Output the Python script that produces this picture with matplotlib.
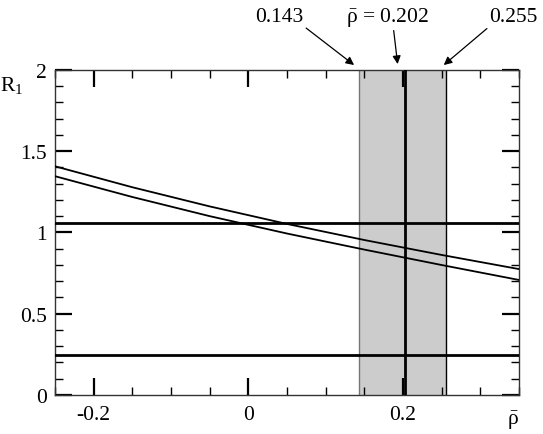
import matplotlib
matplotlib.use('Agg')
import matplotlib.pyplot as plt
from matplotlib.ticker import MultipleLocator, FormatStrFormatter

plt.rcParams['font.family'] = ['Liberation Serif', 'DejaVu Serif']
plt.rcParams['mathtext.fontset'] = 'custom'
plt.rcParams['mathtext.rm'] = 'Liberation Serif'
plt.rcParams['mathtext.it'] = 'Liberation Serif:italic'
plt.rcParams['axes.unicode_minus'] = False

# data
rho = [-0.25, -0.15, -0.05, 0.05, 0.15, 0.25, 0.35]
r1_upper = [1.407, 1.278, 1.160, 1.052, 0.953, 0.861, 0.774]
r1_lower = [1.346, 1.218, 1.100, 0.993, 0.894, 0.799, 0.707]
h_levels = [1.058, 0.247]
band = [0.143, 0.255]
rho_best = 0.202

fig = plt.figure(figsize=(5.43, 4.35), dpi=100)
ax = fig.add_axes([0.101, 0.090, 0.855, 0.747])

ax.axvspan(band[0], band[1], facecolor='#cccccc', edgecolor='none', zorder=1)
ax.axvline(band[0], color='#777777', lw=1.0, zorder=2)
ax.axvline(band[1], color='black', lw=1.0, zorder=2)
ax.axvline(rho_best, color='black', lw=2.0, zorder=3)
for h in h_levels:
    ax.axhline(h, color='black', lw=2.0, zorder=3)

ax.plot(rho, r1_upper, color='black', lw=1.3, zorder=4)
ax.plot(rho, r1_lower, color='black', lw=1.3, zorder=4)

ax.set_xlim(-0.25, 0.35)
ax.set_ylim(0, 2)
ax.xaxis.set_major_locator(MultipleLocator(0.2))
ax.xaxis.set_minor_locator(MultipleLocator(0.05))
ax.yaxis.set_major_locator(MultipleLocator(0.5))
ax.yaxis.set_minor_locator(MultipleLocator(0.1))
ax.xaxis.set_major_formatter(FormatStrFormatter('%g'))
ax.yaxis.set_major_formatter(FormatStrFormatter('%g'))
ax.tick_params(which='both', direction='in', top=True, right=True,
               labelsize=15.5, color='black')
ax.tick_params(which='major', length=12, width=1.6)
ax.tick_params(which='minor', length=6, width=1.0)
ax.tick_params(axis='y', pad=6)
ax.tick_params(axis='x', pad=7)
for s in ax.spines.values():
    s.set_linewidth(1.0)
    s.set_color('#333333')

ax.text(-0.094, 0.955, r'R$_1$', transform=ax.transAxes, fontsize=15.5,
        ha='center', va='center')
ax.text(0.342, -0.155, r'$\bar{\mathrm{\rho}}$', fontsize=15.5,
        ha='center', va='center')

arrow = dict(arrowstyle='-|>', color='black', lw=0.9, mutation_scale=12,
             shrinkA=0, shrinkB=0)
ax.annotate('0.143', xy=(0.1367, 2.03), xytext=(0.040, 2.33),
            fontsize=15.5, ha='center', va='center', annotation_clip=False,
            arrowprops=dict(arrow, relpos=(0.92, 0.15)))
ax.annotate(r'$\bar{\mathrm{\rho}}$ = 0.202', xy=(0.193, 2.036),
            xytext=(0.180, 2.33), fontsize=15.5, ha='center', va='center',
            annotation_clip=False,
            arrowprops=dict(arrow, relpos=(0.57, 0.0)))
ax.annotate('0.255', xy=(0.2526, 2.03), xytext=(0.342, 2.33),
            fontsize=15.5, ha='center', va='center', annotation_clip=False,
            arrowprops=dict(arrow, relpos=(0.1, 0.15)))

fig.savefig('out.png', dpi=100)
